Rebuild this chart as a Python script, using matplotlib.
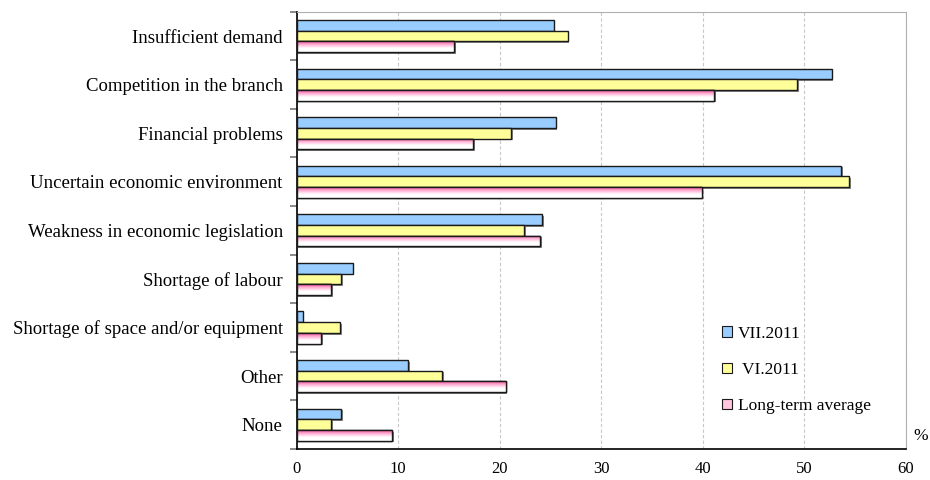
import numpy as np
import matplotlib.pyplot as plt
import matplotlib.patheffects as pe
from matplotlib.colors import LinearSegmentedColormap

plt.rcParams['font.family'] = ['Liberation Serif', 'DejaVu Serif']

categories = ["Insufficient demand", "Competition in the branch", "Financial problems",
              "Uncertain economic environment", "Weakness in economic legislation",
              "Shortage of labour", "Shortage of space and/or equipment", "Other", "None"]
vii_2011 = [25.3, 52.7, 25.5, 53.6, 24.2, 5.5, 0.6, 11.0, 4.4]
vi_2011 = [26.7, 49.3, 21.1, 54.4, 22.4, 4.4, 4.3, 14.3, 3.4]
long_term = [15.5, 41.1, 17.4, 39.9, 24.0, 3.4, 2.4, 20.6, 9.4]
x_ticks = [0, 10, 20, 30, 40, 50, 60]

fig = plt.figure(figsize=(9.3, 4.8), dpi=100)
ax = fig.add_axes([0.319, 0.0646, 0.655, 0.911])

y = np.arange(len(categories))
h = 0.22
shadow = [pe.SimplePatchShadow(offset=(1.2, -1.2), shadow_rgbFace='#555555', alpha=0.7), pe.Normal()]

ax.barh(y - h, vii_2011, height=h, color='#99CCFF', edgecolor='#1a1a1a', linewidth=1.0,
        zorder=3, path_effects=shadow)
ax.barh(y, vi_2011, height=h, color='#FFFF99', edgecolor='#1a1a1a', linewidth=1.0,
        zorder=3, path_effects=shadow)
# long-term bars: white base with shadow, gradient fill, then outline on top
b3 = ax.barh(y + h, long_term, height=h, color='white', edgecolor='#1a1a1a', linewidth=1.0,
             zorder=3, path_effects=shadow)
cmap = LinearSegmentedColormap.from_list(
    'pinkfade', [(0, '#EE5098'), (0.3, '#FFABD2'), (0.65, '#FFFFFF'), (1, '#FFFFFF')])
grad = np.linspace(0, 1, 64).reshape(-1, 1)
for bar in b3:
    x0, y0 = bar.get_x(), bar.get_y()
    w, hh = bar.get_width(), bar.get_height()
    im = ax.imshow(grad, cmap=cmap, aspect='auto', extent=(x0, x0 + w, y0 + hh, y0),
                   origin='upper', zorder=3.5)
    im.set_clip_path(bar)
ax.barh(y + h, long_term, height=h, color='none', edgecolor='#1a1a1a', linewidth=1.0, zorder=4)

ax.set_xlim(0, 60)
ax.set_ylim(len(categories) - 0.5, -0.5)
ax.set_xticks(x_ticks)
ax.tick_params(axis='x', length=0, labelsize=12, pad=9)

# tick marks on category boundaries, labels in the middle
ax.set_yticks(np.arange(-0.5, len(categories), 1))
ax.set_yticklabels([])
ax.set_yticks(y, minor=True)
ax.set_yticklabels(categories, minor=True, fontsize=13.5)
ax.tick_params(axis='y', which='major', length=5, color='#777777', width=1.2)
ax.tick_params(axis='y', which='minor', length=0, pad=10)

ax.grid(axis='x', color='#c8c8c8', linestyle=(0, (3, 2)), linewidth=0.8, zorder=0)
ax.spines['left'].set_color('black')
ax.spines['bottom'].set_color('black')
ax.spines['left'].set_linewidth(1.2)
ax.spines['bottom'].set_linewidth(1.2)
ax.spines['top'].set_color('#b0b0b0')
ax.spines['right'].set_color('#b0b0b0')

ax.text(1.025, 0.03, '%', transform=ax.transAxes, fontsize=12.5, ha='center', va='center')

leg_b1 = plt.Rectangle((0, 0), 1, 1, facecolor='#99CCFF', edgecolor='#1a1a1a', linewidth=0.8)
leg_b2 = plt.Rectangle((0, 0), 1, 1, facecolor='#FFFF99', edgecolor='#1a1a1a', linewidth=0.8)
leg_b3 = plt.Rectangle((0, 0), 1, 1, facecolor='#FFC6DE', edgecolor='#1a1a1a', linewidth=0.8)
ax.legend([leg_b1, leg_b2, leg_b3], ['VII.2011', ' VI.2011', 'Long-term average'],
          loc='upper left', bbox_to_anchor=(0.673, 0.318), frameon=False, fontsize=12.5,
          handlelength=0.55, handleheight=0.55, handletextpad=0.35, labelspacing=1.17)

fig.savefig('out.png', dpi=100)
